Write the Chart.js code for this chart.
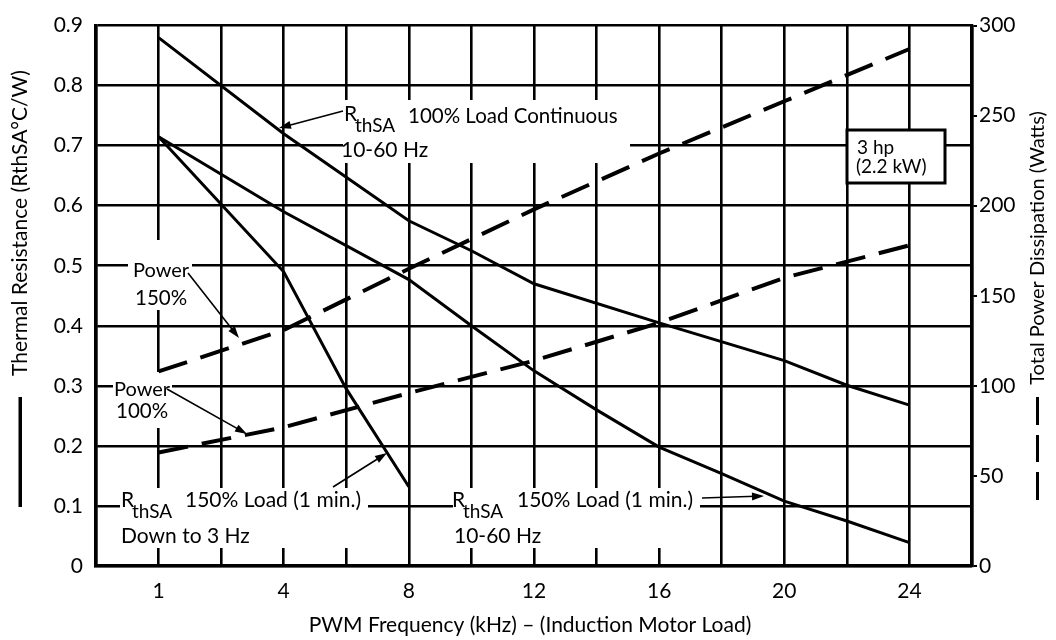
<!DOCTYPE html>
<html>
<head>
<meta charset="utf-8">
<script src="https://cdn.jsdelivr.net/npm/chart.js@4/dist/chart.umd.min.js"></script>
<style>
  html, body { margin: 0; padding: 0; background: #fff; }
  canvas { display: block; }
</style>
</head>
<body>
<canvas id="c" width="1056" height="640"></canvas>
<script>
// grid lines of the PWM axis (kHz) and the labelled ones
const gridKHz = [-0.5, 1, 2.5, 4, 6, 8, 10, 12, 14, 16, 18, 20, 22, 24, 26];
const xTickLabels = [1, 4, 8, 12, 16, 20, 24];

// RthSA 100% load continuous, 10-60 Hz
const freqCont = [1, 4, 8, 10, 12, 16, 20, 22, 24];
const rthCont = [0.88, 0.72, 0.575, 0.525, 0.47, 0.405, 0.342, 0.301, 0.268];

// RthSA 150% load (1 min.), 10-60 Hz
const freq150 = [1, 4, 8, 10, 12, 14, 16, 18, 20, 22, 24];
const rth150 = [0.715, 0.59, 0.477, 0.40, 0.325, 0.26, 0.198, 0.154, 0.108, 0.075, 0.039];

// RthSA 150% load (1 min.), down to 3 Hz
const freq3Hz = [1, 4, 6, 8];
const rth3Hz = [0.715, 0.49, 0.295, 0.132];

// total power dissipation (W)
const freqPower = [1, 4, 8, 12, 16, 20, 24];
const power150 = [108, 131, 165, 198, 229, 258, 287];
const power100 = [63, 77, 96, 114, 135, 160, 178];

const FONT = 'Lato, "DejaVu Sans", sans-serif';
const pts = (xs, ys) => xs.map((x, i) => ({ x, y: ys[i] }));

// PWM axis: 1 -> 4 kHz squeezed into two grid cells, then 2 kHz per cell
const toCell = f => f < 4 ? 1 + (f - 1) * 2 / 3 : 3 + (f - 4) / 2;
const fromCell = u => u < 3 ? 1 + (u - 1) * 3 / 2 : 4 + (u - 3) * 2;
class PwmScale extends Chart.LinearScale {
  static id = 'pwm';
  static defaults = Chart.LinearScale.defaults;
  getPixelForValue(v) {
    const a = toCell(this.min), b = toCell(this.max);
    return this.getPixelForDecimal((toCell(v) - a) / (b - a));
  }
  getValueForPixel(p) {
    const a = toCell(this.min), b = toCell(this.max);
    return fromCell(a + this.getDecimalForPixel(p) * (b - a));
  }
}
Chart.register(PwmScale);

const text = (ctx, s, x, y, size, align = 'left') => {
  ctx.font = size + 'px ' + FONT;
  ctx.textAlign = align;
  ctx.textBaseline = 'middle';
  ctx.fillText(s, x, y);
};
const rth = (ctx, x, y) => {
  text(ctx, 'R', x, y, 21);
  text(ctx, 'thSA', x + 11, y + 12, 19);
};
const arrow = (ctx, x1, y1, x2, y2) => {
  const a = Math.atan2(y2 - y1, x2 - x1);
  ctx.lineWidth = 1.6;
  ctx.beginPath(); ctx.moveTo(x1, y1); ctx.lineTo(x2 - 8 * Math.cos(a), y2 - 8 * Math.sin(a)); ctx.stroke();
  ctx.beginPath();
  ctx.moveTo(x2, y2);
  ctx.lineTo(x2 - 12 * Math.cos(a) + 4 * Math.sin(a), y2 - 12 * Math.sin(a) - 4 * Math.cos(a));
  ctx.lineTo(x2 - 12 * Math.cos(a) - 4 * Math.sin(a), y2 - 12 * Math.sin(a) + 4 * Math.cos(a));
  ctx.closePath(); ctx.fill();
};

const notes = {
  id: 'notes',
  beforeDatasetsDraw(chart) {
    const ctx = chart.ctx;
    ctx.save();
    ctx.fillStyle = '#fff';
    [[343, 100, 287, 63], [128, 240, 64, 70], [113, 372, 59, 56],
     [120, 488, 248, 60], [453, 488, 247, 60]].forEach(r => ctx.fillRect(...r));
    ctx.fillRect(847, 130, 98, 53);
    ctx.strokeStyle = '#000';
    ctx.lineWidth = 3;
    ctx.strokeRect(847, 130, 98, 53);
    ctx.restore();
  },
  afterDatasetsDraw(chart) {
    const ctx = chart.ctx;
    ctx.save();
    ctx.fillStyle = '#000';
    ctx.strokeStyle = '#000';

    rth(ctx, 344, 114);
    text(ctx, '100% Load Continuous', 408, 116, 20.5);
    text(ctx, '10-60 Hz', 341, 150, 21);
    arrow(ctx, 343, 111, 279, 128);

    text(ctx, '3 hp', 857, 148, 19);
    text(ctx, '(2.2 kW)', 856, 167, 19);

    text(ctx, 'Power', 133, 271, 20);
    text(ctx, '150%', 135, 298, 20.5);
    arrow(ctx, 188, 273, 239, 338);

    text(ctx, 'Power', 114, 390, 20);
    text(ctx, '100%', 116, 411, 20.5);
    arrow(ctx, 167, 389, 247, 434);

    rth(ctx, 121, 500);
    text(ctx, '150% Load (1 min.)', 185, 500, 21);
    text(ctx, 'Down to 3 Hz', 121, 536, 21);
    arrow(ctx, 333, 487, 387, 453);

    rth(ctx, 452, 500);
    text(ctx, '150% Load (1 min.)', 517, 500, 21);
    text(ctx, '10-60 Hz', 454, 536, 21);
    arrow(ctx, 702, 498, 764, 496);
    ctx.restore();
  },
  afterDraw(chart) {
    const ctx = chart.ctx;
    ctx.save();
    ctx.fillStyle = '#000';
    text(ctx, 'PWM Frequency (kHz) – (Induction Motor Load)', 530, 625, 21, 'center');

    ctx.translate(20, 223); ctx.rotate(-Math.PI / 2);
    text(ctx, 'Thermal Resistance (RthSA°C/W)', 0, 0, 21, 'center');
    ctx.setTransform(1, 0, 0, 1, 0, 0);
    ctx.fillRect(18.5, 397, 3.5, 110);

    ctx.translate(1038, 248); ctx.rotate(-Math.PI / 2);
    text(ctx, 'Total Power Dissipation (Watts)', 0, 0, 20, 'center');
    ctx.setTransform(1, 0, 0, 1, 0, 0);
    [[397, 28], [435, 27], [472, 28]].forEach(([y, h]) => ctx.fillRect(1036, y, 3, h));
    ctx.restore();
  }
};

const solid = (data, axis = 'y') => ({ data, yAxisID: axis, borderColor: '#000', borderWidth: 3, pointRadius: 0, tension: 0, fill: false });
const dashed = data => ({ ...solid(data, 'y2'), borderWidth: 4, borderDash: [30, 14] });

new Chart(document.getElementById('c'), {
  type: 'line',
  data: {
    datasets: [
      solid(pts(freqCont, rthCont)),
      solid(pts(freq150, rth150)),
      solid(pts(freq3Hz, rth3Hz)),
      dashed(pts(freqPower, power150)),
      dashed(pts(freqPower, power100))
    ]
  },
  options: {
    responsive: false,
    animation: false,
    layout: { padding: { top: 16, left: 0, right: 0, bottom: 0 } },
    plugins: { legend: { display: false }, tooltip: { enabled: false } },
    scales: {
      x: {
        type: 'pwm', min: -0.5, max: 26,
        afterBuildTicks: s => { s.ticks = gridKHz.map(value => ({ value })); },
        afterFit: s => { s.height = 74; },
        ticks: {
          autoSkip: false, maxRotation: 0, padding: 13, color: '#000',
          font: { family: FONT, size: 21 },
          callback: v => xTickLabels.includes(v) ? String(v) : ''
        },
        grid: { color: '#000', lineWidth: 2.6, drawTicks: false },
        border: { color: '#000', width: 3.3 }
      },
      y: {
        position: 'left', min: 0, max: 0.9,
        afterFit: s => { s.width = 96; },
        ticks: {
          stepSize: 0.1, padding: 13, color: '#000',
          font: { family: FONT, size: 21 },
          callback: v => String(+v.toFixed(1))
        },
        grid: { color: '#000', lineWidth: 2.6, drawTicks: false },
        border: { color: '#000', width: 3.3 }
      },
      y2: {
        position: 'right', min: 0, max: 300,
        afterFit: s => { s.width = 84; },
        ticks: {
          stepSize: 50, padding: 2, color: '#000',
          font: { family: FONT, size: 21 }
        },
        grid: { drawOnChartArea: false, drawTicks: true, tickLength: 5, color: '#000', lineWidth: 2 },
        border: { color: '#000', width: 3.3 }
      }
    }
  },
  plugins: [notes]
});
</script>
</body>
</html>
